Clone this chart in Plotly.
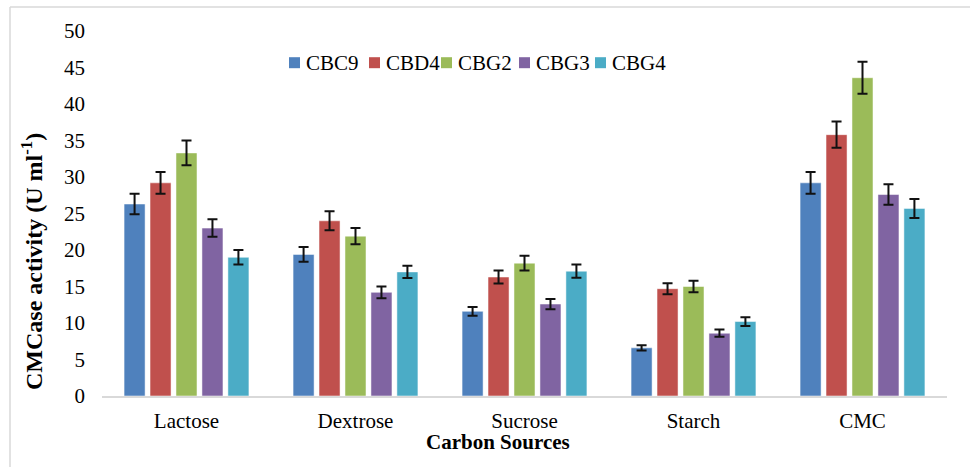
import plotly.graph_objects as go

# Carbon sources tested and CMCase activity (U ml-1) per isolate
sources = ["Lactose", "Dextrose", "Sucrose", "Starch", "CMC"]
isolates = ["CBC9", "CBD4", "CBG2", "CBG3", "CBG4"]

cbc9 = [26.3, 19.4, 11.6, 6.6, 29.2]
cbd4 = [29.2, 24.0, 16.3, 14.7, 35.8]
cbg2 = [33.3, 21.9, 18.2, 15.0, 43.6]
cbg3 = [23.0, 14.2, 12.6, 8.6, 27.6]
cbg4 = [19.0, 17.0, 17.1, 10.2, 25.7]

cbc9_err = [1.4, 1.0, 0.6, 0.35, 1.5]
cbd4_err = [1.5, 1.3, 0.9, 0.75, 1.8]
cbg2_err = [1.7, 1.1, 1.0, 0.8, 2.2]
cbg3_err = [1.2, 0.8, 0.7, 0.5, 1.4]
cbg4_err = [1.0, 0.85, 0.9, 0.6, 1.3]

y_ticks = [0, 5, 10, 15, 20, 25, 30, 35, 40, 45, 50]

values = [cbc9, cbd4, cbg2, cbg3, cbg4]
errors = [cbc9_err, cbd4_err, cbg2_err, cbg3_err, cbg4_err]
colors = ["#4F81BD", "#C0504D", "#9BBB59", "#8064A2", "#4BACC6"]

FONT = "Liberation Serif, Times New Roman, serif"

W, H = 970, 467
L, R, T, B = 102, 23, 31, 71
plot_w = W - L - R
plot_h = H - T - B


def px_x(x):
    return (x - L) / plot_w


def px_y(y):
    return (H - B - y) / plot_h


fig = go.Figure()
for name, vals, errs, col in zip(isolates, values, errors, colors):
    fig.add_trace(go.Bar(
        name=name, x=sources, y=vals,
        marker=dict(color=col, line=dict(color="rgba(255,255,255,0.5)", width=1)),
        error_y=dict(type="data", array=errs, visible=True,
                     color="#111111", thickness=2, width=5),
        showlegend=False,
    ))

shapes = [
    # outer chart frame (top and left edges visible)
    dict(type="line", xref="paper", yref="paper",
         x0=px_x(10), x1=px_x(W + 5), y0=px_y(7), y1=px_y(7),
         line=dict(color="#D9D9D9", width=1.5)),
    dict(type="line", xref="paper", yref="paper",
         x0=px_x(10), x1=px_x(10), y0=px_y(7), y1=px_y(H + 5),
         line=dict(color="#D9D9D9", width=1.5)),
]

annotations = []
# legend row: swatch + label per isolate
legend_x = [289, 369, 441, 519, 595]
legend_cy = 62.7
sw = 11
for name, col, lx in zip(isolates, colors, legend_x):
    shapes.append(dict(type="rect", xref="paper", yref="paper",
                       x0=px_x(lx), x1=px_x(lx + sw),
                       y0=px_y(legend_cy + sw / 2), y1=px_y(legend_cy - sw / 2),
                       fillcolor=col, line=dict(width=0)))
    annotations.append(dict(text=name, xref="paper", yref="paper",
                            x=px_x(lx + sw + 4), y=px_y(legend_cy),
                            xanchor="left", yanchor="middle", showarrow=False,
                            font=dict(family=FONT, size=21, color="#000000")))

annotations.append(dict(text="<b>Carbon Sources</b>", xref="paper", yref="paper",
                        x=px_x(497.5), y=px_y(442), xanchor="center", yanchor="middle",
                        showarrow=False, font=dict(family=FONT, size=21, color="#000000")))
annotations.append(dict(text="<b>CMCase activity (U ml<sup>-1</sup>)</b>", xref="paper", yref="paper",
                        x=px_x(32), y=px_y(262), xanchor="center", yanchor="middle",
                        textangle=-90, showarrow=False,
                        font=dict(family=FONT, size=24, color="#000000")))

fig.update_layout(
    width=W, height=H,
    margin=dict(l=L, r=R, t=T, b=B, pad=0),
    paper_bgcolor="white", plot_bgcolor="white",
    barmode="group", bargap=0.232, bargroupgap=0.19,
    shapes=shapes, annotations=annotations,
    showlegend=False,
)
fig.update_xaxes(
    showgrid=False, showline=True, linecolor="#D9D9D9", linewidth=2,
    ticks="", ticklabelstandoff=5,
    tickfont=dict(family=FONT, size=21, color="#000000"),
)
fig.update_yaxes(
    range=[0, 50], tickvals=y_ticks, showgrid=False, showline=False,
    zeroline=False, ticks="", ticklabelstandoff=16,
    tickfont=dict(family=FONT, size=21, color="#000000"),
)

fig.write_html("out.html")
